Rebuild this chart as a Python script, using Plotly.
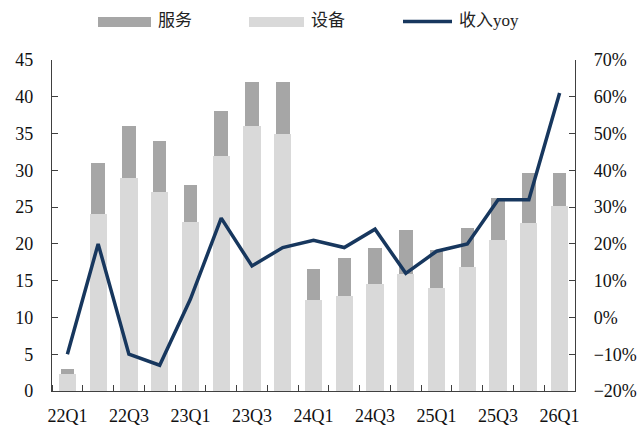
import plotly.graph_objects as go

# ── Data ──────────────────────────────────────────────────────────────
QUARTERS = [
    "22Q1", "22Q2", "22Q3", "22Q4", "23Q1", "23Q2", "23Q3", "23Q4",
    "24Q1", "24Q2", "24Q3", "24Q4", "25Q1", "25Q2", "25Q3", "25Q4", "26Q1",
]
EQUIPMENT = [2.3, 24, 29, 27, 23, 32, 36, 35,
             12.4, 12.9, 14.5, 15.9, 14.0, 16.8, 20.5, 22.8, 25.1]
SERVICE = [0.7, 7, 7, 7, 5, 6, 6, 7,
           4.2, 5.2, 4.9, 6.0, 5.2, 5.4, 5.7, 6.9, 4.6]
REVENUE_YOY = [-10, 20, -10, -13, 5, 27, 14, 19,
               21, 19, 24, 12, 18, 20, 32, 32, 61]

# ── Styles ────────────────────────────────────────────────────────────
C_SERVICE = "#A6A6A6"
C_EQUIP = "#D9D9D9"
C_LINE = "#17375E"
C_AXIS = "#404040"
FONT = "Liberation Serif, Noto Sans CJK SC, serif"

W, H = 640, 428
L, R, T, B = 52, 65, 60, 37
PLOT_W, PLOT_H = W - L - R, H - T - B

xs = list(range(len(QUARTERS)))

fig = go.Figure()
fig.add_trace(go.Bar(
    x=xs, y=EQUIPMENT, name="设备", width=0.56,
    marker=dict(color=C_EQUIP, line=dict(width=0)),
    showlegend=False,
))
fig.add_trace(go.Bar(
    x=xs, y=SERVICE, base=EQUIPMENT, name="服务", width=0.44,
    marker=dict(color=C_SERVICE, line=dict(width=0)),
    showlegend=False,
))
fig.add_trace(go.Scatter(
    x=xs, y=REVENUE_YOY, name="收入yoy", yaxis="y2", mode="lines",
    line=dict(color=C_LINE, width=3.5),
    showlegend=False,
))


def px_x(p):
    return (p - L) / PLOT_W


def px_y(p):
    return (H - B - p) / PLOT_H


# manual legend with wide swatches, as in the source chart
legend_items = [
    ("rect", C_SERVICE, 98, 151, "服务"),
    ("rect", C_EQUIP, 249, 304, "设备"),
    ("line", C_LINE, 403, 452, "收入yoy"),
]
for kind, color, x0, x1, label in legend_items:
    if kind == "rect":
        fig.add_shape(type="rect", xref="paper", yref="paper",
                      x0=px_x(x0), x1=px_x(x1), y0=px_y(27), y1=px_y(17),
                      fillcolor=color, line=dict(width=0))
    else:
        fig.add_shape(type="line", xref="paper", yref="paper",
                      x0=px_x(x0), x1=px_x(x1), y0=px_y(21.5), y1=px_y(21.5),
                      line=dict(color=color, width=3.5))
    fig.add_annotation(text=label, xref="paper", yref="paper",
                       x=px_x(x1 + 5), y=px_y(21), xanchor="left", yanchor="middle",
                       showarrow=False, font=dict(size=17, color="#222"))

fig.update_layout(
    width=W, height=H,
    margin=dict(l=L, r=R, t=T, b=B),
    paper_bgcolor="white", plot_bgcolor="white",
    font=dict(family=FONT, size=18, color="#111"),
    barmode="overlay",
    bargap=0,
    xaxis=dict(
        range=[-0.5, len(QUARTERS) - 0.5],
        tickvals=xs[::2], ticktext=QUARTERS[::2],
        ticks="", showgrid=False, zeroline=False, automargin=False,
        showline=True, linecolor=C_AXIS, linewidth=1.2,
        ticklabelstandoff=8,
        minor=dict(tick0=0.5, dtick=1, ticks="inside", ticklen=6,
                   tickcolor=C_AXIS, showgrid=False),
    ),
    yaxis=dict(
        range=[0, 45], dtick=5, ticks="inside", ticklen=6, tickcolor=C_AXIS,
        showgrid=False, zeroline=False, automargin=False,
        showline=True, linecolor=C_AXIS, linewidth=1.2,
        ticklabelstandoff=14,
    ),
    yaxis2=dict(
        range=[-20, 70], dtick=10, ticksuffix="%", overlaying="y", side="right",
        ticks="inside", ticklen=6, tickcolor=C_AXIS,
        showgrid=False, zeroline=False, automargin=False,
        showline=True, linecolor=C_AXIS, linewidth=1.2,
        ticklabelstandoff=14,
    ),
)

fig.write_html("out.html", config={"displayModeBar": False},
               post_script="document.body.style.margin='0';")
